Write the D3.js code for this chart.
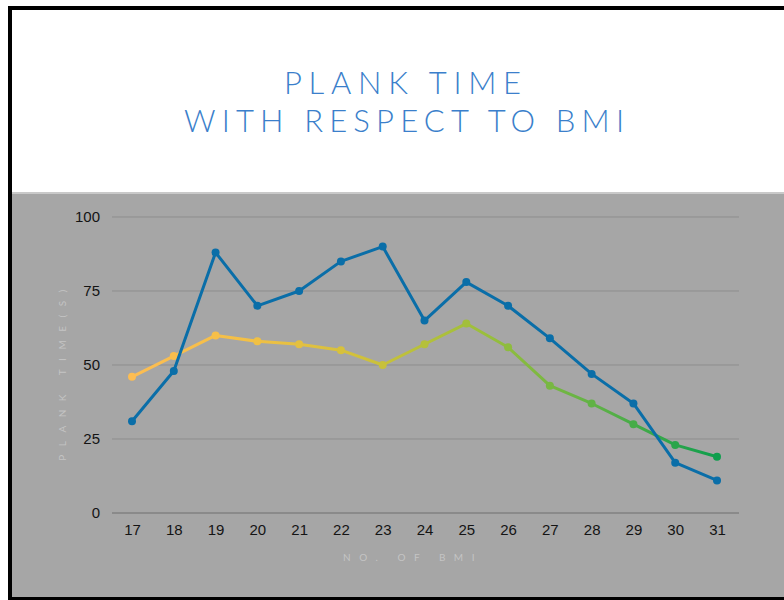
<!DOCTYPE html>
<html>
<head>
<meta charset="utf-8">
<script src="https://cdn.jsdelivr.net/npm/d3@7"></script>
<style>
  html, body { margin: 0; padding: 0; background: #fff; }
  svg { display: block; }
</style>
</head>
<body>
<svg id="chart" width="784" height="600"></svg>
<script>
// BMI categories along the x axis
const bmi = [17, 18, 19, 20, 21, 22, 23, 24, 25, 26, 27, 28, 29, 30, 31];
// Plank time (seconds), two series
const seriesA = [31, 48, 88, 70, 75, 85, 90, 65, 78, 70, 59, 47, 37, 17, 11];
const seriesB = [46, 53, 60, 58, 57, 55, 50, 57, 64, 56, 43, 37, 30, 23, 19];
const yTicks = [0, 25, 50, 75, 100];
const titleLines = ["PLANK TIME", "WITH RESPECT TO BMI"];

const svg = d3.select("#chart");
const W = 784, H = 600;

// frame and panels
svg.append("rect").attr("x", 0).attr("y", 0).attr("width", W).attr("height", H).attr("fill", "#fff");
svg.append("rect").attr("x", 12).attr("y", 192).attr("width", W - 12).attr("height", 406).attr("fill", "#a6a6a6");
svg.append("rect").attr("x", 12).attr("y", 192).attr("width", W - 12).attr("height", 2).attr("fill", "#c9c9c9");
svg.append("rect").attr("x", 8).attr("y", 6).attr("width", W - 8).attr("height", 4).attr("fill", "#000");
svg.append("rect").attr("x", 8).attr("y", 6).attr("width", 4).attr("height", H - 6).attr("fill", "#000");
svg.append("rect").attr("x", 8).attr("y", 597).attr("width", W - 8).attr("height", 3).attr("fill", "#000");

// title
const title = svg.append("g")
  .attr("font-family", "Lato, 'Open Sans', sans-serif")
  .attr("font-weight", 300)
  .attr("font-size", 31)
  .attr("fill", "#3b7fcb");
const titleBox = [{ x: 284, y: 94, len: 237 }, { x: 184, y: 132, len: 440 }];
titleLines.forEach((t, i) => {
  title.append("text")
    .attr("x", titleBox[i].x)
    .attr("y", titleBox[i].y)
    .attr("textLength", titleBox[i].len)
    .attr("lengthAdjust", "spacing")
    .text(t);
});

// scales
const x = d3.scalePoint().domain(bmi).range([132, 717]);
const y = d3.scaleLinear().domain([0, 100]).range([513, 217]);
const gridX0 = 112, gridX1 = 739;

// gridlines
svg.append("g").selectAll("line").data(yTicks).join("line")
  .attr("x1", gridX0).attr("x2", gridX1)
  .attr("y1", d => y(d)).attr("y2", d => y(d))
  .attr("stroke", d => d === 0 ? "#6f6f6f" : "#8d8d8d")
  .attr("stroke-width", 1);

// y axis labels
const yAxis = svg.append("g").attr("transform", "translate(100,0)")
  .call(d3.axisLeft(y).tickValues(yTicks).tickSize(0).tickPadding(0));
yAxis.select(".domain").remove();
yAxis.selectAll("text")
  .attr("font-family", "'Liberation Sans', Arial, sans-serif")
  .attr("font-size", 15)
  .attr("fill", "#141414");

// x axis labels
const xAxis = svg.append("g").attr("transform", "translate(0,513)")
  .call(d3.axisBottom(x).tickSize(0).tickPadding(11));
xAxis.select(".domain").remove();
xAxis.selectAll("text")
  .attr("font-family", "'Liberation Sans', Arial, sans-serif")
  .attr("font-size", 15)
  .attr("fill", "#141414");

// axis titles
svg.append("text")
  .attr("x", 413).attr("y", 561)
  .attr("text-anchor", "middle")
  .attr("font-family", "Lato, sans-serif")
  .attr("font-size", 10)
  .attr("letter-spacing", "0.85em")
  .attr("fill", "#c4c4c4")
  .text("NO. OF BMI");
svg.append("text")
  .attr("transform", "translate(66,371) rotate(-90)")
  .attr("text-anchor", "middle")
  .attr("font-family", "Lato, sans-serif")
  .attr("font-size", 10)
  .attr("letter-spacing", "0.85em")
  .attr("fill", "#c4c4c4")
  .text("PLANK TIME(S)");

// colour ramp for series B, left to right
const stops = ["#fdbd52", "#f3c045", "#cfc13a", "#9bbf3c", "#5db146", "#0e9e4d"];
const ramp = d3.scaleLinear()
  .domain(stops.map((_, i) => i / (stops.length - 1)))
  .range(stops)
  .interpolate(d3.interpolateRgb);

const defs = svg.append("defs");
const grad = defs.append("linearGradient")
  .attr("id", "rampB")
  .attr("gradientUnits", "userSpaceOnUse")
  .attr("x1", x(bmi[0])).attr("x2", x(bmi[bmi.length - 1]))
  .attr("y1", 0).attr("y2", 0);
stops.forEach((c, i) => grad.append("stop")
  .attr("offset", (i / (stops.length - 1) * 100) + "%")
  .attr("stop-color", c));

const line = d3.line().x((d, i) => x(bmi[i])).y(d => y(d));

// series B (gradient)
svg.append("path").datum(seriesB)
  .attr("d", line)
  .attr("fill", "none")
  .attr("stroke", "url(#rampB)")
  .attr("stroke-width", 3)
  .attr("stroke-linejoin", "round");
svg.append("g").selectAll("circle").data(seriesB).join("circle")
  .attr("cx", (d, i) => x(bmi[i]))
  .attr("cy", d => y(d))
  .attr("r", 4)
  .attr("fill", (d, i) => ramp(i / (bmi.length - 1)));

// series A (blue)
svg.append("path").datum(seriesA)
  .attr("d", line)
  .attr("fill", "none")
  .attr("stroke", "#0a6ea8")
  .attr("stroke-width", 3)
  .attr("stroke-linejoin", "round");
svg.append("g").selectAll("circle").data(seriesA).join("circle")
  .attr("cx", (d, i) => x(bmi[i]))
  .attr("cy", d => y(d))
  .attr("r", 4)
  .attr("fill", "#0a6ea8");
</script>
</body>
</html>
